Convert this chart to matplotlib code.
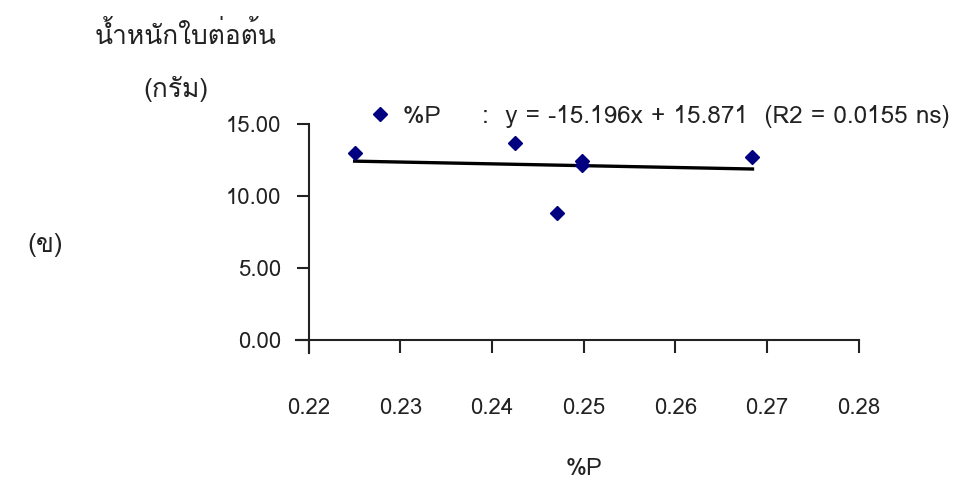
import numpy as np
import matplotlib
matplotlib.use("Agg")
import matplotlib.pyplot as plt
from matplotlib import font_manager, ft2font

# ---- data ----
x_p = [0.2250, 0.2425, 0.2471, 0.2498, 0.2498, 0.2684]
y_weight = [12.98, 13.70, 8.83, 12.45, 12.15, 12.73]
x_ticks = [0.22, 0.23, 0.24, 0.25, 0.26, 0.27, 0.28]
y_ticks = [0.0, 5.0, 10.0, 15.0]
series_label = "%P"
equation_text = ":  y = -15.196x + 15.871  (R2 = 0.0155 ns)"
title_text = "น้ำหนักใบต่อต้น"
unit_text = "(กรัม)"
panel_text = "(ข)"
x_label = "%P"

# ---- find a font with Thai glyphs ----
thai_family = None
for f in font_manager.fontManager.ttflist:
    try:
        cm = ft2font.FT2Font(f.fname).get_charmap()
        if 0x0E19 in cm and 0x0E49 in cm and 0x0E02 in cm:
            thai_family = f.name
            break
    except Exception:
        pass
families = ([thai_family] if thai_family else []) + ["DejaVu Sans"]
plt.rcParams["font.family"] = families

fig = plt.figure(figsize=(9.57, 4.82), dpi=100)
ax = fig.add_axes([0.3227, 0.2952, 0.5747, 0.4475])

sc, = ax.plot(x_p, y_weight, linestyle="none", marker="D", markersize=7,
              color="#000080", label=series_label + "     " + equation_text, zorder=3)

coef = np.polyfit(x_p, y_weight, 1)
xs = np.array([min(x_p), max(x_p)])
ax.plot(xs, np.polyval(coef, xs), color="black", linewidth=2.4, zorder=2)

ax.set_xlim(0.22, 0.28)
ax.set_ylim(0, 15)
ax.set_xticks(x_ticks)
ax.set_xticklabels([f"{v:.2f}" for v in x_ticks])
ax.set_yticks(y_ticks)
ax.set_yticklabels([f"{v:.2f}" for v in y_ticks])
for s in ["top", "right"]:
    ax.spines[s].set_visible(False)
for s in ["left", "bottom"]:
    ax.spines[s].set_linewidth(1.5)
    ax.spines[s].set_color("#222222")
ax.spines["left"].set_bounds(-0.9, 15)
ax.spines["bottom"].set_bounds(0.22 - 0.0014, 0.28)
ax.tick_params(axis="both", direction="out", length=9, width=1.5, color="#222222",
               labelsize=16, labelcolor="#222222")
ax.tick_params(axis="x", pad=33)
ax.tick_params(axis="y", pad=11)
ax.set_xlabel(x_label, fontsize=17, color="#222222", labelpad=27)

leg = fig.legend(handles=[sc], loc="center left", bbox_to_anchor=(0.391, 0.759),
                 frameon=False, fontsize=17.5, handlelength=0.45, handletextpad=0.75,
                 borderaxespad=0, borderpad=0)
for t in leg.get_texts():
    t.set_color("#222222")

fig.text(0.099, 0.927, title_text, fontsize=19, color="#222222", va="center", ha="left")
fig.text(0.150, 0.815, unit_text, fontsize=19, color="#222222", va="center", ha="left")
fig.text(0.029, 0.492, panel_text, fontsize=19, color="#222222", va="center", ha="left")

fig.savefig("out.png", dpi=100)
